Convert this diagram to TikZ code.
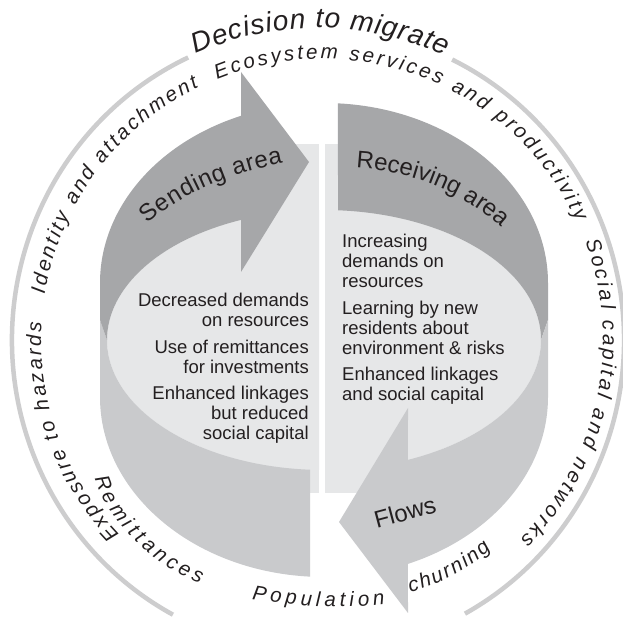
\documentclass[tikz,border=0pt]{standalone}
\usepackage{fontspec}
\setsansfont{Liberation Sans}
\usetikzlibrary{calc,decorations.text}

\begin{document}
\begin{tikzpicture}[x=1pt, y=1pt, font=\sffamily,
  ringtext/.style={decorate, decoration={text along path, text color=ink, text align={fit to path},
    text={|\sffamily\itshape\fontsize{20.5}{20.5}\selectfont|#1}}},
  arrowtext/.style={decorate, decoration={text along path, text color=ink, text align={fit to path},
    text={|\sffamily\fontsize{24}{24}\selectfont|#1}}},
  box/.style={inner sep=0pt, text=ink, font=\sffamily\fontsize{18.5}{20}\selectfont}]
  \definecolor{ink}{HTML}{231F20}
  \definecolor{darkband}{HTML}{A6A7A9}
  \definecolor{paleband}{HTML}{C9CACC}
  \definecolor{floor}{HTML}{E6E7E8}
  \definecolor{rim}{HTML}{CDCDCE}
  \useasboundingbox (0,0) rectangle (623,624);
  \fill[white] (0,0) rectangle (623,624);

  \coordinate (O) at (324,341);
  \coordinate (I) at (324,284);
  \coordinate (B) at (324,227);
  \coordinate (C) at (318,284);
  \coordinate (T) at (322,284);

  \draw[rim, line width=4.5pt] ($(C)+(115.1:306pt and 312pt)$) arc[start angle=115.1, end angle=241.7, x radius=306pt, y radius=312pt];
  \draw[rim, line width=4.5pt] ($(C)+(64:306pt and 312pt)$) arc[start angle=64, end angle=-61.3, x radius=306pt, y radius=312pt];

  \begin{scope}
    \clip (0,131) rectangle (319,480);
    \fill[floor] (200,131) rectangle (319,480);
    \fill[floor] (I) ellipse[x radius=217pt, y radius=130pt];
  \end{scope}
  \begin{scope}
    \clip (325,131) rectangle (623,480);
    \fill[floor] (325,131) rectangle (440,480);
    \fill[floor] (I) ellipse[x radius=217pt, y radius=130pt];
  \end{scope}

  \fill[paleband] (100,304) -- (100,227) arc[start angle=180, end angle=266.42, x radius=224pt, y radius=180pt]
    -- ($(I)+(266.3:217pt and 130pt)$) arc[start angle=266.3, end angle=180, x radius=217pt, y radius=130pt] -- cycle;
  \fill[darkband] ($(O)+(111.75:224pt and 180pt)$) -- (241,552) -- (309,462) -- (241,352)
    -- ($(I)+(112.49:217pt and 130pt)$) arc[start angle=112.49, end angle=180, x radius=217pt, y radius=130pt]
    -- (100,304) -- (100,341) arc[start angle=180, end angle=111.75, x radius=224pt, y radius=180pt] -- cycle;

  \fill[darkband] ($(O)+(86.42:224pt and 180pt)$) arc[start angle=86.42, end angle=0, x radius=224pt, y radius=180pt]
    -- (548,304) -- ($(I)+(0:217pt and 130pt)$) arc[start angle=0, end angle=86.3, x radius=217pt, y radius=130pt] -- cycle;
  \fill[paleband] (548,304) -- (548,227) arc[start angle=0, end angle=-67.98, x radius=224pt, y radius=180pt]
    -- (408,11) -- (339,102) -- (408,216)
    -- ($(I)+(-67.23:217pt and 130pt)$) arc[start angle=-67.23, end angle=0, x radius=217pt, y radius=130pt] -- cycle;

  \path[decorate, decoration={text along path, text color=ink, text align={fit to path},
      text={|\sffamily\itshape\fontsize{28}{28}\selectfont|Decision to migrate}}]
    ($(C)+(113.6:306pt and 312pt)$) arc[start angle=113.6, end angle=65.6, x radius=306pt, y radius=312pt];

  \path[ringtext={Exposure to hazards}] ($(T)+(223.8:281pt)$) arc[start angle=223.8, end angle=176.4, radius=281pt];
  \path[ringtext={Identity and attachment}] ($(T)+(170.7:281pt)$) arc[start angle=170.7, end angle=116, radius=281pt];
  \path[ringtext={Ecosystem services and productivity}] ($(T)+(111.9:281pt)$) arc[start angle=111.9, end angle=24.9, radius=281pt];
  \path[ringtext={Social capital and networks}] ($(T)+(20.5:281pt)$) arc[start angle=20.5, end angle=-45.2, radius=281pt];

  \path[ringtext={Remittances}] (95,146) .. controls (106,106) and (150,60) .. (200,40);
  \path[ringtext={Population}] (252,25) .. controls (295,17) and (345,15) .. (385,20);
  \path[ringtext={churning}] (410,32) .. controls (440,39) and (470,56) .. (491,75);

  \path[arrowtext={Sending area}] (148,400) .. controls (175,426) and (225,450) .. (283,461);
  \path[arrowtext={Receiving area}] (356,456) .. controls (400,454) and (455,438) .. (500,398);
  \node[rotate=15, inner sep=0pt, text=ink, font=\sffamily\fontsize{24}{24}\selectfont] (flows) at (405,112) {Flows};

  \node[box, anchor=north east, align=right] (sendtext) at (309,331)
    {Decreased demands\\on resources\\[6.5pt]Use of remittances\\for investments\\[6.5pt]Enhanced linkages\\but reduced\\social capital};
  \node[box, anchor=north west, align=left] (recvtext) at (342,390)
    {Increasing\\demands on\\resources\\[6.5pt]Learning by new\\residents about\\environment \& risks\\[6.5pt]Enhanced linkages\\and social capital};
\end{tikzpicture}
\end{document}
